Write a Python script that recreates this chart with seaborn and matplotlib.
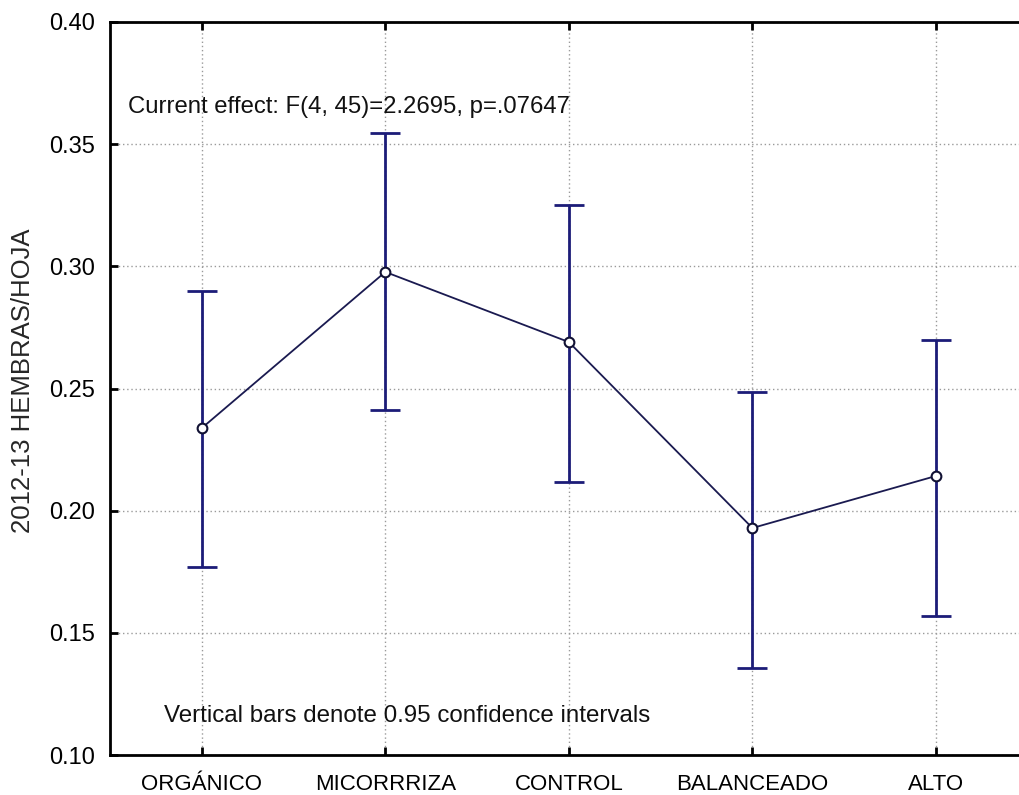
import matplotlib
matplotlib.use("Agg")
import matplotlib.pyplot as plt
import seaborn as sns
import numpy as np
import pandas as pd

categories = ["ORGÁNICO", "MICORRRIZA", "CONTROL", "BALANCEADO", "ALTO"]
means = [0.2338, 0.2977, 0.2690, 0.1929, 0.2142]
ci_upper = [0.2899, 0.3546, 0.3251, 0.2486, 0.2698]
ci_lower = [0.1769, 0.2412, 0.2117, 0.1356, 0.1569]
y_ticks = [0.10, 0.15, 0.20, 0.25, 0.30, 0.35, 0.40]
ylabel = "2012-13 HEMBRAS/HOJA"
effect_text = "Current effect: F(4, 45)=2.2695, p=.07647"
note_text = "Vertical bars denote 0.95 confidence intervals"

sns.set_style("white")
plt.rcParams['font.family'] = ['Liberation Sans', 'DejaVu Sans']

df = pd.DataFrame({"cat": categories, "mean": means})

fig = plt.figure(figsize=(10.19, 7.95), dpi=100)
ax = fig.add_axes([110/1019, 1-755/795, 1-110/1019 + 0.01, (755-22)/795])

navy = "#1c1c78"

xs = np.arange(len(categories))
lower_err = np.array(means) - np.array(ci_lower)
upper_err = np.array(ci_upper) - np.array(means)
ax.errorbar(xs, means, yerr=[lower_err, upper_err], fmt="none", ecolor=navy,
            elinewidth=2.0, capsize=11, capthick=2.0, zorder=3)

sns.pointplot(data=df, x="cat", y="mean", errorbar=None, color="#1a1a50",
              markers="o", linewidth=1.3, ax=ax, zorder=4,
              markersize=7, markerfacecolor="white", markeredgecolor="#111133",
              markeredgewidth=1.5)

ax.set_xlim(-0.5, (1019 - 201) / 183.5 + 0.05)
ax.set_ylim(0.10, 0.40)
ax.set_yticks(y_ticks)
ax.set_yticklabels([f"{v:.2f}" for v in y_ticks])
ax.set_xticks(xs)
ax.set_xticklabels(categories)
ax.set_xlabel("")
ax.set_ylabel(ylabel, fontsize=18.5)
ax.yaxis.set_label_coords(-0.0815, 0.51)

ax.grid(True, axis="both", color="#9a9a9a", linestyle=(0, (1, 2)), linewidth=1.0)
ax.xaxis.grid(True, color="#9a9a9a", linestyle=(0, (1, 2)), linewidth=1.0)
ax.set_axisbelow(True)

for side in ["left", "bottom", "top", "right"]:
    ax.spines[side].set_visible(True)
    ax.spines[side].set_color("black")
    ax.spines[side].set_linewidth(2.0)

ax.tick_params(axis="both", which="both", direction="in", length=6, width=2,
               colors="black", top=True, left=True, bottom=True, right=False)
ax.tick_params(axis="x", labeltop=False, labelsize=16, pad=14)
ax.tick_params(axis="y", labelsize=17, pad=11)

ax.text(0.0198, 0.884, effect_text, transform=ax.transAxes, fontsize=17.2,
        ha="left", va="center", color="#111111")
ax.text(0.0583, 0.053, note_text, transform=ax.transAxes, fontsize=17.4,
        ha="left", va="center", color="#111111")

fig.savefig("out.png", dpi=100)
